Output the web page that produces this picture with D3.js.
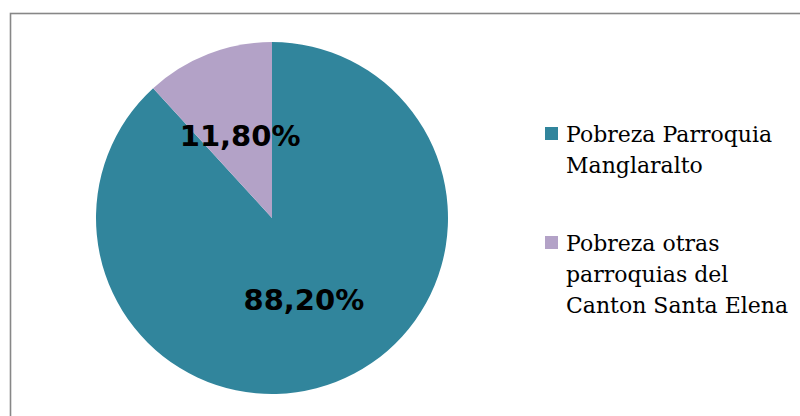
<!DOCTYPE html>
<html><head><meta charset="utf-8">
<script src="https://cdn.jsdelivr.net/npm/d3@7"></script>
<style>html,body{margin:0;padding:0;background:#fff;}</style>
</head><body>
<svg id="c" width="800" height="416"></svg>
<script>
const categories = ["Pobreza Parroquia Manglaralto", "Pobreza otras parroquias del Canton Santa Elena"];
const legendLines = [["Pobreza Parroquia", "Manglaralto"], ["Pobreza otras", "parroquias del", "Canton Santa Elena"]];
const values = [88.2, 11.8];
const valueLabels = ["88,20%", "11,80%"];
const colors = ["#31859C", "#B3A2C7"];

const svg = d3.select("#c");
svg.append("rect").attr("x", 10.5).attr("y", 13.5).attr("width", 800).attr("height", 420)
  .attr("fill", "#fff").attr("stroke", "#878787").attr("stroke-width", 1.6);

const cx = 272, cy = 218, r = 176;
const pie = d3.pie().sort(null).value(d => d)(values);
const arc = d3.arc().innerRadius(0).outerRadius(r);
const labelArc = d3.arc().innerRadius(88).outerRadius(88);
const g = svg.append("g").attr("transform", `translate(${cx},${cy})`);
g.selectAll("path").data(pie).join("path").attr("d", arc).attr("fill", (d, i) => colors[i]);
g.selectAll("text").data(pie).join("text")
  .attr("transform", d => `translate(${labelArc.centroid(d)})`)
  .attr("text-anchor", "middle").attr("dy", "0.36em")
  .attr("font-family", "DejaVu Sans").attr("font-weight", "bold").attr("font-size", 29)
  .attr("fill", "#000").text((d, i) => valueLabels[i]);

const legendTop = [142, 251];
const lg = svg.append("g");
legendLines.forEach((lines, i) => {
  lg.append("rect").attr("x", 545).attr("y", legendTop[i] - 15).attr("width", 13).attr("height", 13)
    .attr("fill", colors[i]);
  lines.forEach((t, j) => {
    lg.append("text").attr("x", 566).attr("y", legendTop[i] + j * 31)
      .attr("font-family", "DejaVu Serif").attr("font-size", 22).attr("fill", "#000").text(t);
  });
});
</script>
</body></html>
